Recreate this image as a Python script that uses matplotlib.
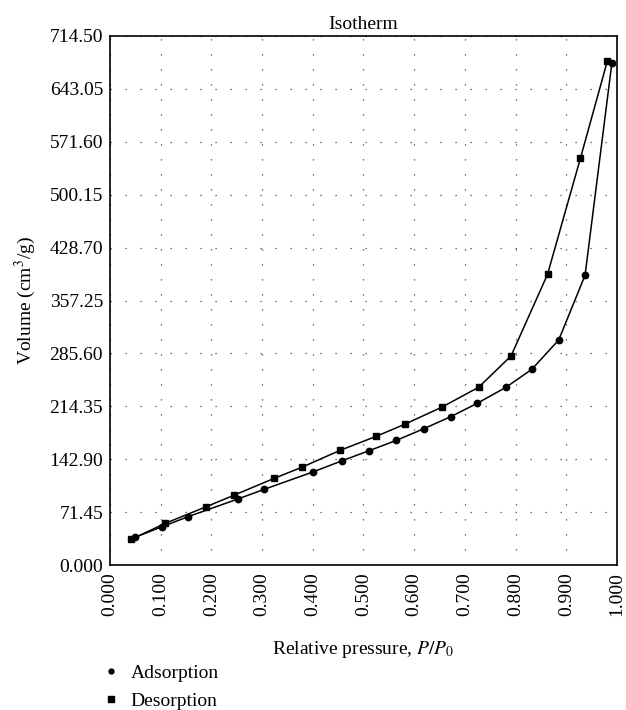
import matplotlib
matplotlib.use("Agg")
import matplotlib.pyplot as plt
from matplotlib.lines import Line2D
import numpy as np

plt.rcParams['font.family'] = ['Liberation Serif', 'DejaVu Serif']
plt.rcParams['mathtext.fontset'] = 'stix'

# adsorption branch (P/P0, volume cm3/g)
ads_p = [0.049, 0.103, 0.154, 0.252, 0.304, 0.400, 0.458, 0.511, 0.565,
         0.619, 0.672, 0.724, 0.781, 0.832, 0.885, 0.937, 0.990]
ads_v = [37.4, 51.8, 65.3, 89.1, 102.2, 125.6, 140.9, 154.4, 168.4,
         184.1, 200.3, 218.3, 240.0, 264.3, 303.9, 391.3, 678.4]

# desorption branch
des_p = [0.981, 0.928, 0.863, 0.791, 0.727, 0.654, 0.581, 0.525, 0.454,
         0.378, 0.324, 0.244, 0.190, 0.109, 0.042]
des_v = [680.7, 549.7, 392.6, 282.3, 240.0, 213.0, 190.0, 173.8, 154.9,
         131.9, 117.1, 94.1, 78.8, 56.3, 34.7]

x_ticks = np.arange(0, 1.0001, 0.1)
y_labels = ['0.000', '71.45', '142.90', '214.35', '285.60', '357.25',
            '428.70', '500.15', '571.60', '643.05', '714.50']
y_ticks = np.arange(len(y_labels)) * 71.45

fs = 14

fig = plt.figure(figsize=(6.26, 7.10), dpi=100)
ax = fig.add_axes([0.1757, 0.2042, 0.8099, 0.7451])

ax.plot(ads_p, ads_v, color='black', lw=1.1, marker='o', ms=4.6)
ax.plot(des_p, des_v, color='black', lw=1.1, marker='s', ms=5.0)

ax.set_xlim(0, 1)
ax.set_ylim(0, 714.5)
ax.set_xticks(x_ticks)
ax.set_xticklabels(['%.3f' % v for v in x_ticks], rotation=90)
ax.set_yticks(y_ticks)
ax.set_yticklabels(y_labels)
ax.tick_params(length=0, labelsize=fs, pad=5)
ax.grid(True, color='#444444', lw=0.9, linestyle=(0, (1, 11)))
for s in ax.spines.values():
    s.set_linewidth(1.2)

ax.set_title('Isotherm', fontsize=fs, pad=5)
ax.set_ylabel('Volume (cm$^3$/g)', fontsize=fs, labelpad=8)
ax.set_xlabel('Relative pressure, $P/P_0$', fontsize=fs, labelpad=17)

# marker-only legend entries below the axes
handles = [Line2D([], [], ls='none', marker='o', ms=3.5, color='black'),
           Line2D([], [], ls='none', marker='s', ms=4.5, color='black')]
fig.legend(handles, ['Adsorption', 'Desorption'], loc='upper left',
           bbox_to_anchor=(0.168, 0.064), frameon=False, fontsize=fs,
           handlelength=0.6, handletextpad=0.7, labelspacing=0.5,
           borderaxespad=0, borderpad=0)

fig.savefig('out.png', dpi=100)
